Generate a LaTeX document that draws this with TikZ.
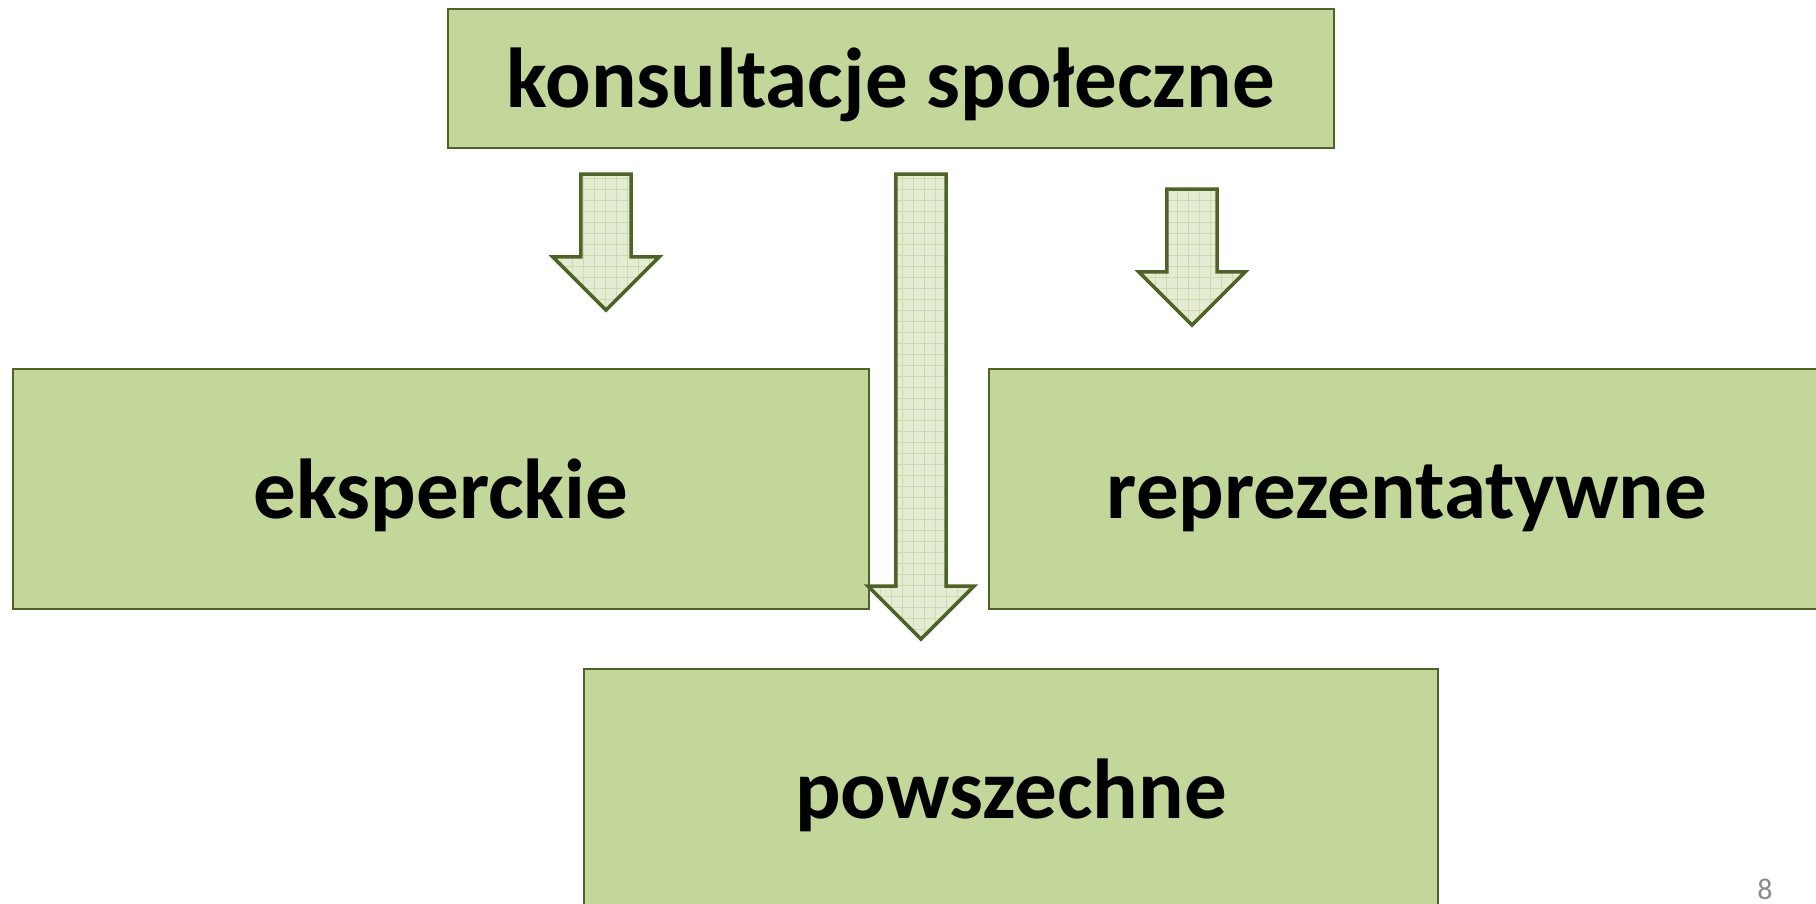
\documentclass[tikz,border=0pt]{standalone}
\usepackage{fontspec}
\setmainfont{Carlito}
\usetikzlibrary{shapes.arrows,patterns.meta}
\definecolor{boxgreen}{HTML}{C4D79B}
\definecolor{lineolive}{HTML}{4F6228}
\definecolor{arrowfill}{HTML}{E4EDD3}
\definecolor{gridgreen}{HTML}{CCDBAE}
\definecolor{pagegray}{HTML}{8A8A8A}

\begin{document}
\begin{tikzpicture}[x=1pt,y=-1pt,
	box/.style={rectangle,draw=lineolive,fill=boxgreen,line width=2.5pt,inner sep=0pt,
		text height=58pt,text depth=0pt,font=\fontsize{85}{85}\selectfont\bfseries},
	downarrow/.style={single arrow,fill=arrowfill,
		inner xsep=0pt,inner ysep=25pt,minimum width=106pt,single arrow head extend=28pt,
		single arrow tip angle=90,rotate=-90,anchor=tail,
		postaction={pattern={Hatch[distance=11pt,angle=0,line width=0.8pt]},pattern color=gridgreen},
		postaction={draw=lineolive,line width=3.5pt}}]
\useasboundingbox (0,0) rectangle (1816,904);
\clip (0,0) rectangle (1816,904);
\node [box,minimum width=886pt,minimum height=139pt] (top) at (891,78.5) {konsultacje społeczne};
\node [box,minimum width=856pt,minimum height=240pt] (eks) at (441,489) {eksperckie};
\node [box,minimum width=836pt,minimum height=240pt] (rep) at (1407,489) {reprezentatywne};
\node [box,minimum width=854pt,minimum height=240pt] (pow) at (1011,789) {powszechne};
\node [downarrow,minimum height=136pt] (arrEks) at (606,174) {};
\node [downarrow,minimum height=465pt] (arrPow) at (921,174) {};
\node [downarrow,minimum height=136pt] (arrRep) at (1192,189) {};
\node [text=pagegray,font=\fontsize{30}{30}\selectfont] (page) at (1765,889) {8};
\end{tikzpicture}
\end{document}
